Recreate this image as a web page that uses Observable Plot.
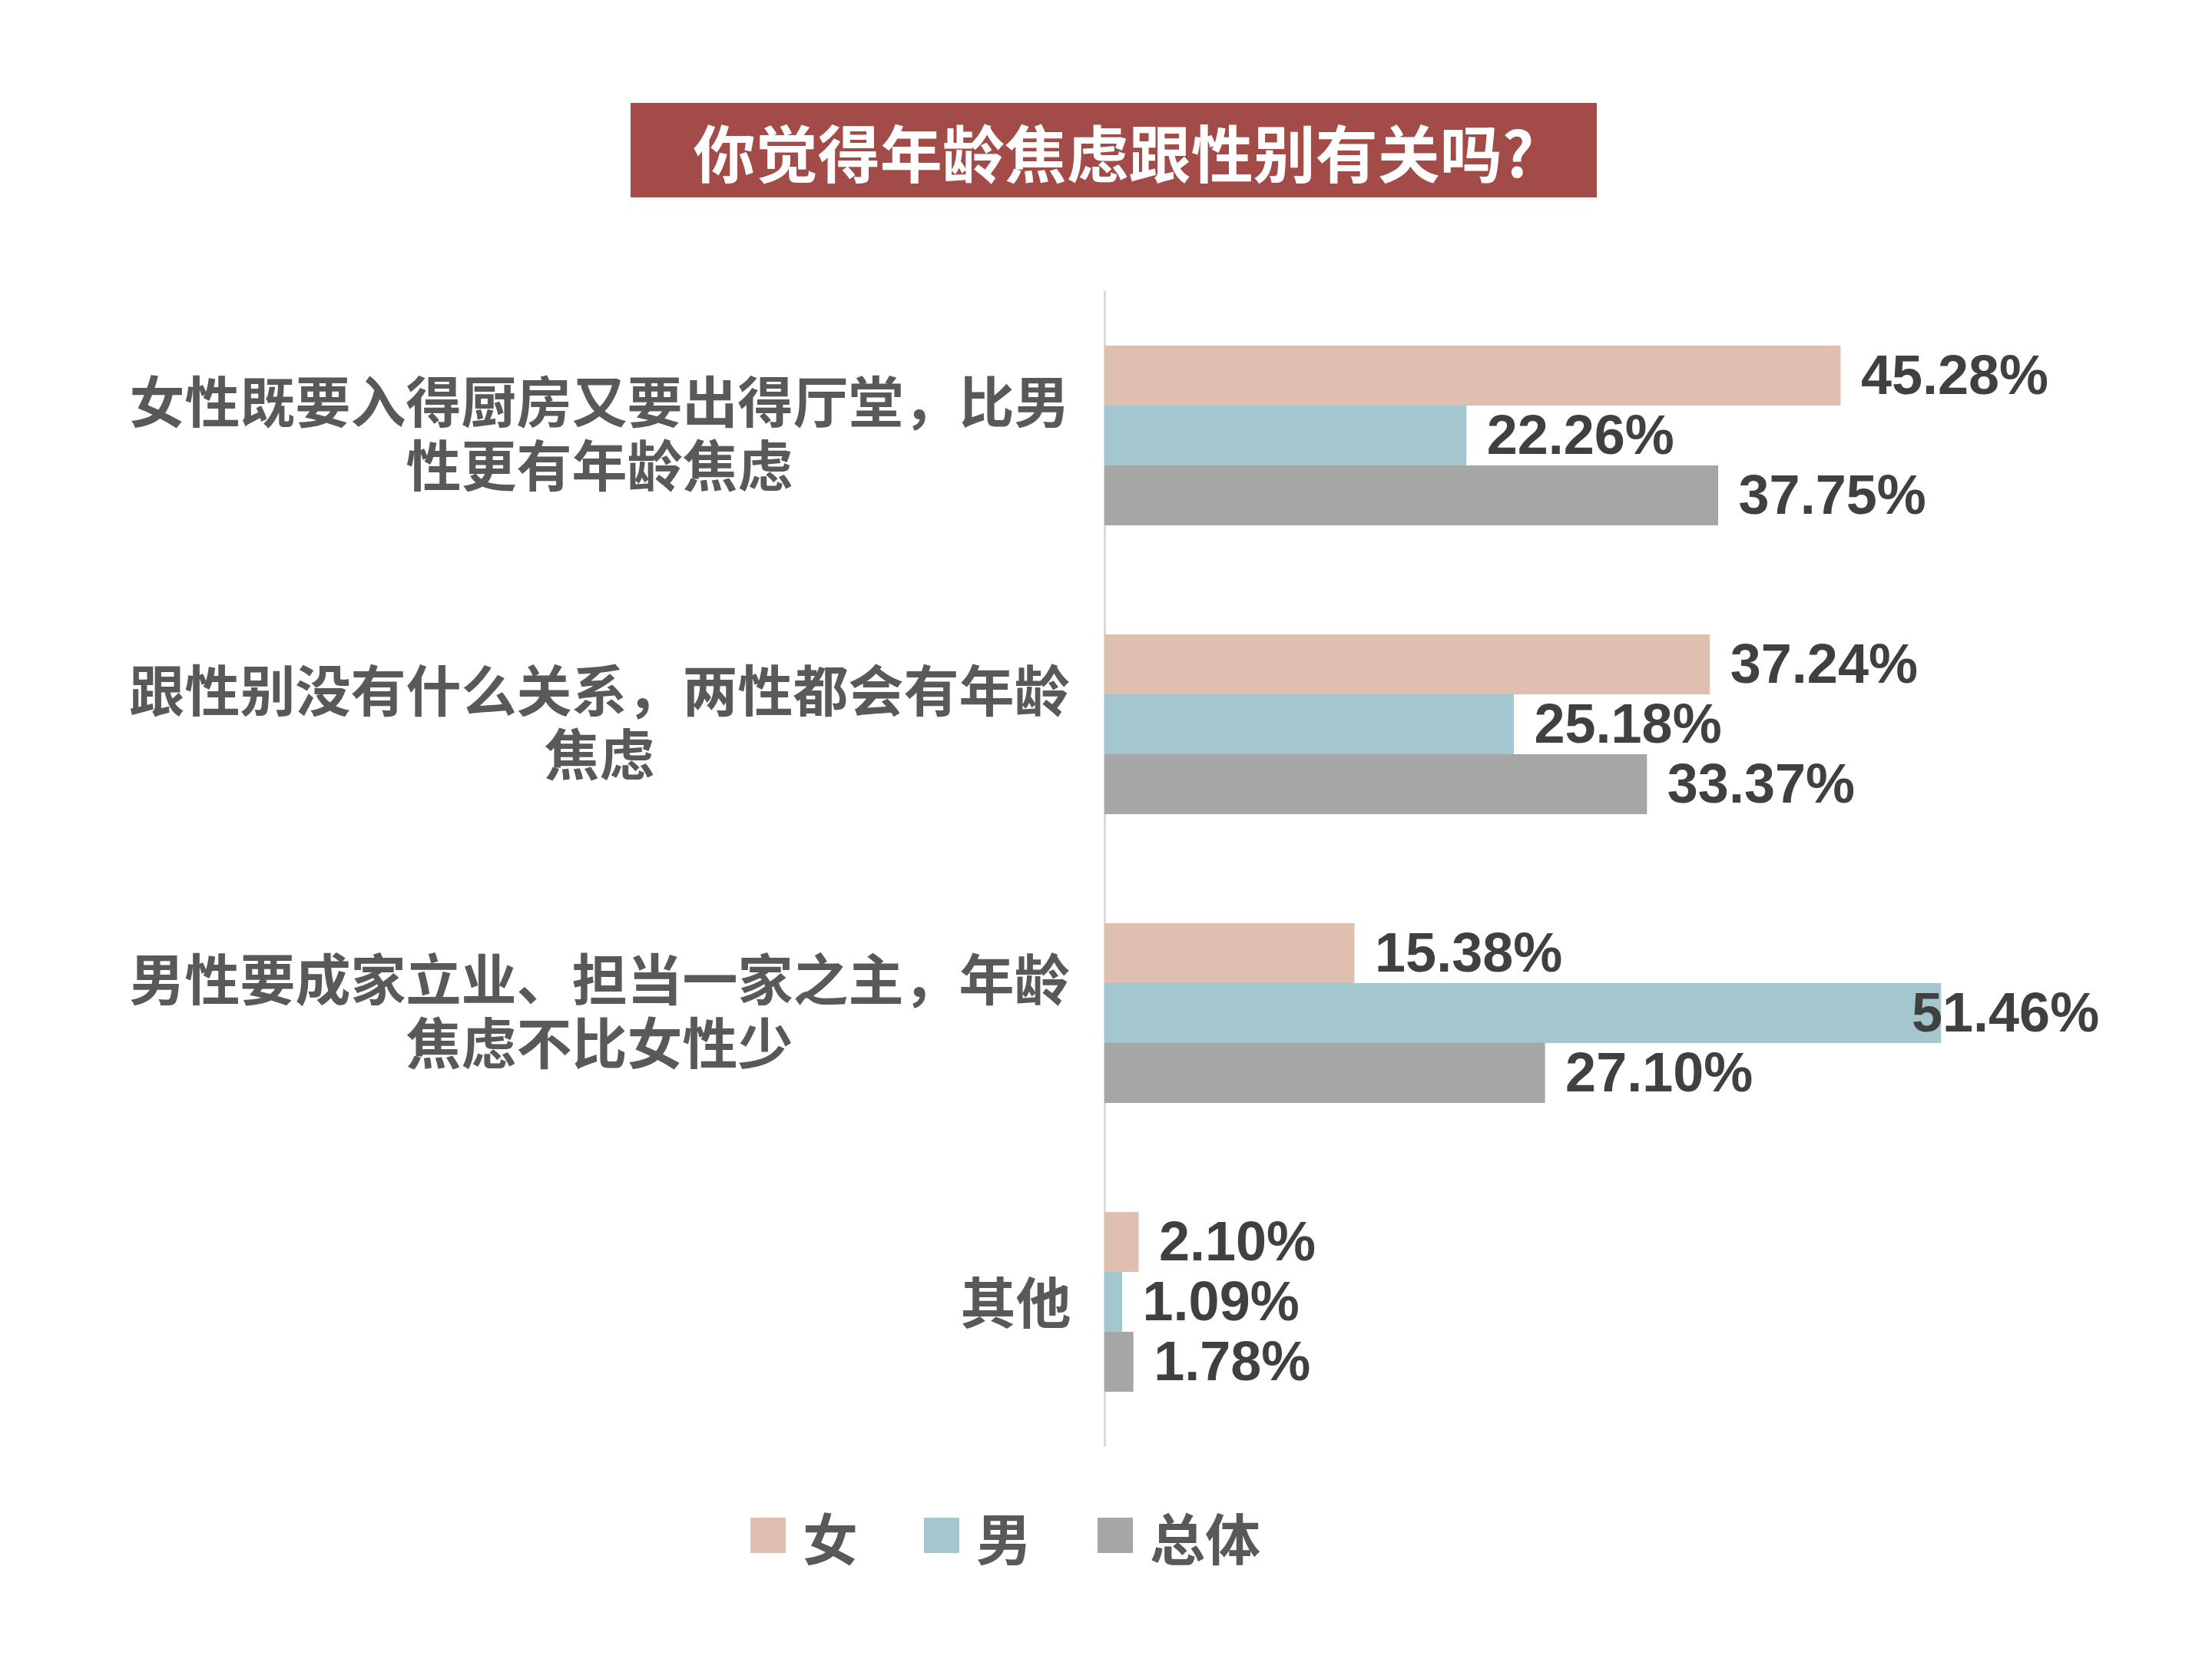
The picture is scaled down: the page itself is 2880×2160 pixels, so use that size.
<!DOCTYPE html>
<html>
<head>
<meta charset="utf-8">
<script src="https://cdn.jsdelivr.net/npm/d3@7"></script>
<script src="https://cdn.jsdelivr.net/npm/@observablehq/plot@0.6"></script>
<style>
  html, body { margin: 0; padding: 0; background: #fff; }
  #wrap { position: relative; width: 2880px; height: 2160px; overflow: hidden; }
  #title {
    position: absolute; left: 821px; top: 134px; width: 1258px; height: 123px;
    background: #a24b48; color: #fff;
    font-family: "Noto Sans CJK SC", sans-serif; font-weight: 700; font-size: 81px;
    display: flex; align-items: center; justify-content: center; line-height: 1;
  }
  #chart { position: absolute; left: 0; top: 328px; }
  #legend {
    position: absolute; left: 977px; top: 1962px; height: 74px;
    display: flex; align-items: center;
    font-family: "Noto Sans CJK SC", sans-serif; font-weight: 700; font-size: 72px; color: #595959;
  }
  .item { display: flex; align-items: center; margin-right: 86px; }
  .sw { width: 46px; height: 46px; margin-right: 22px; }
</style>
</head>
<body>
<div id="wrap">
  <div id="title">你觉得年龄焦虑跟性别有关吗?</div>
  <div id="chart"></div>
  <div id="legend"></div>
</div>
<script>
const categories = [
  "女性既要入得厨房又要出得厅堂，比男性更有年龄焦虑",
  "跟性别没有什么关系，两性都会有年龄焦虑",
  "男性要成家立业、担当一家之主，年龄焦虑不比女性少",
  "其他"
];
const labelLine1 = ["女性既要入得厨房又要出得厅堂，比男", "跟性别没有什么关系，两性都会有年龄", "男性要成家立业、担当一家之主，年龄", "其他"];
const labelLine2 = ["性更有年龄焦虑", "焦虑", "焦虑不比女性少", ""];
const series = ["女", "男", "总体"];
const colors = ["#dfbfaf", "#a3c6cf", "#a6a6a6"];
const female = [45.28, 37.24, 15.38, 2.10];
const male = [22.26, 25.18, 51.46, 1.09];
const total = [37.75, 33.37, 27.10, 1.78];
const valuesBySeries = [female, male, total];
const labelMax = 48.4;

const data = categories.flatMap((c, i) =>
  series.map((s, j) => ({cat: c, series: s, value: valuesBySeries[j][i]}))
);

const labels = categories.map((c, i) => ({cat: c, l1: labelLine1[i], l2: labelLine2[i]}));
const multi = labels.filter(d => d.l2);
const single = labels.filter(d => !d.l2);
const cjk = "'Noto Sans CJK SC', sans-serif";
const labelStyle = {fontSize: 72, fontWeight: "bold", fontFamily: cjk, fill: "#595959", lineAnchor: "middle", frameAnchor: "left"};

const chart = Plot.plot({
  width: 2880,
  height: 1600,
  marginTop: 50,
  marginBottom: 44,
  marginLeft: 1438,
  marginRight: 172,
  style: {background: "transparent", fontFamily: "'Liberation Sans', Arial, sans-serif"},
  x: {domain: [0, 60], axis: null},
  y: {domain: series, axis: null, paddingInner: 0, paddingOuter: 0.9},
  fy: {domain: categories, axis: null, padding: 0},
  color: {domain: series, range: colors},
  marks: [
    Plot.ruleX(categories, {x: () => 0, fy: d => d, stroke: "#d9d9d9", strokeWidth: 3}),
    Plot.barX(data, {x: "value", y: "series", fy: "cat", fill: "series", inset: 0}),
    Plot.text(data, {
      x: d => Math.min(d.value, labelMax), y: "series", fy: "cat",
      text: d => d.value.toFixed(2) + "%",
      textAnchor: "start", dx: 26, fill: "#404040",
      fontSize: 72, fontWeight: "bold"
    }),
    Plot.text(multi, {fy: "cat", text: "l1", dx: -658, dy: -41, textAnchor: "middle", ...labelStyle}),
    Plot.text(multi, {fy: "cat", text: "l2", dx: -658, dy: 42, textAnchor: "middle", ...labelStyle}),
    Plot.text(single, {fy: "cat", text: "l1", dx: -44, dy: 4, textAnchor: "end", ...labelStyle})
  ]
});
document.getElementById("chart").appendChild(chart);

const legend = document.getElementById("legend");
series.forEach((s, i) => {
  const item = document.createElement("div");
  item.className = "item";
  const sw = document.createElement("div");
  sw.className = "sw";
  sw.style.background = colors[i];
  const t = document.createElement("span");
  t.textContent = s;
  item.appendChild(sw);
  item.appendChild(t);
  legend.appendChild(item);
});
</script>
</body>
</html>
